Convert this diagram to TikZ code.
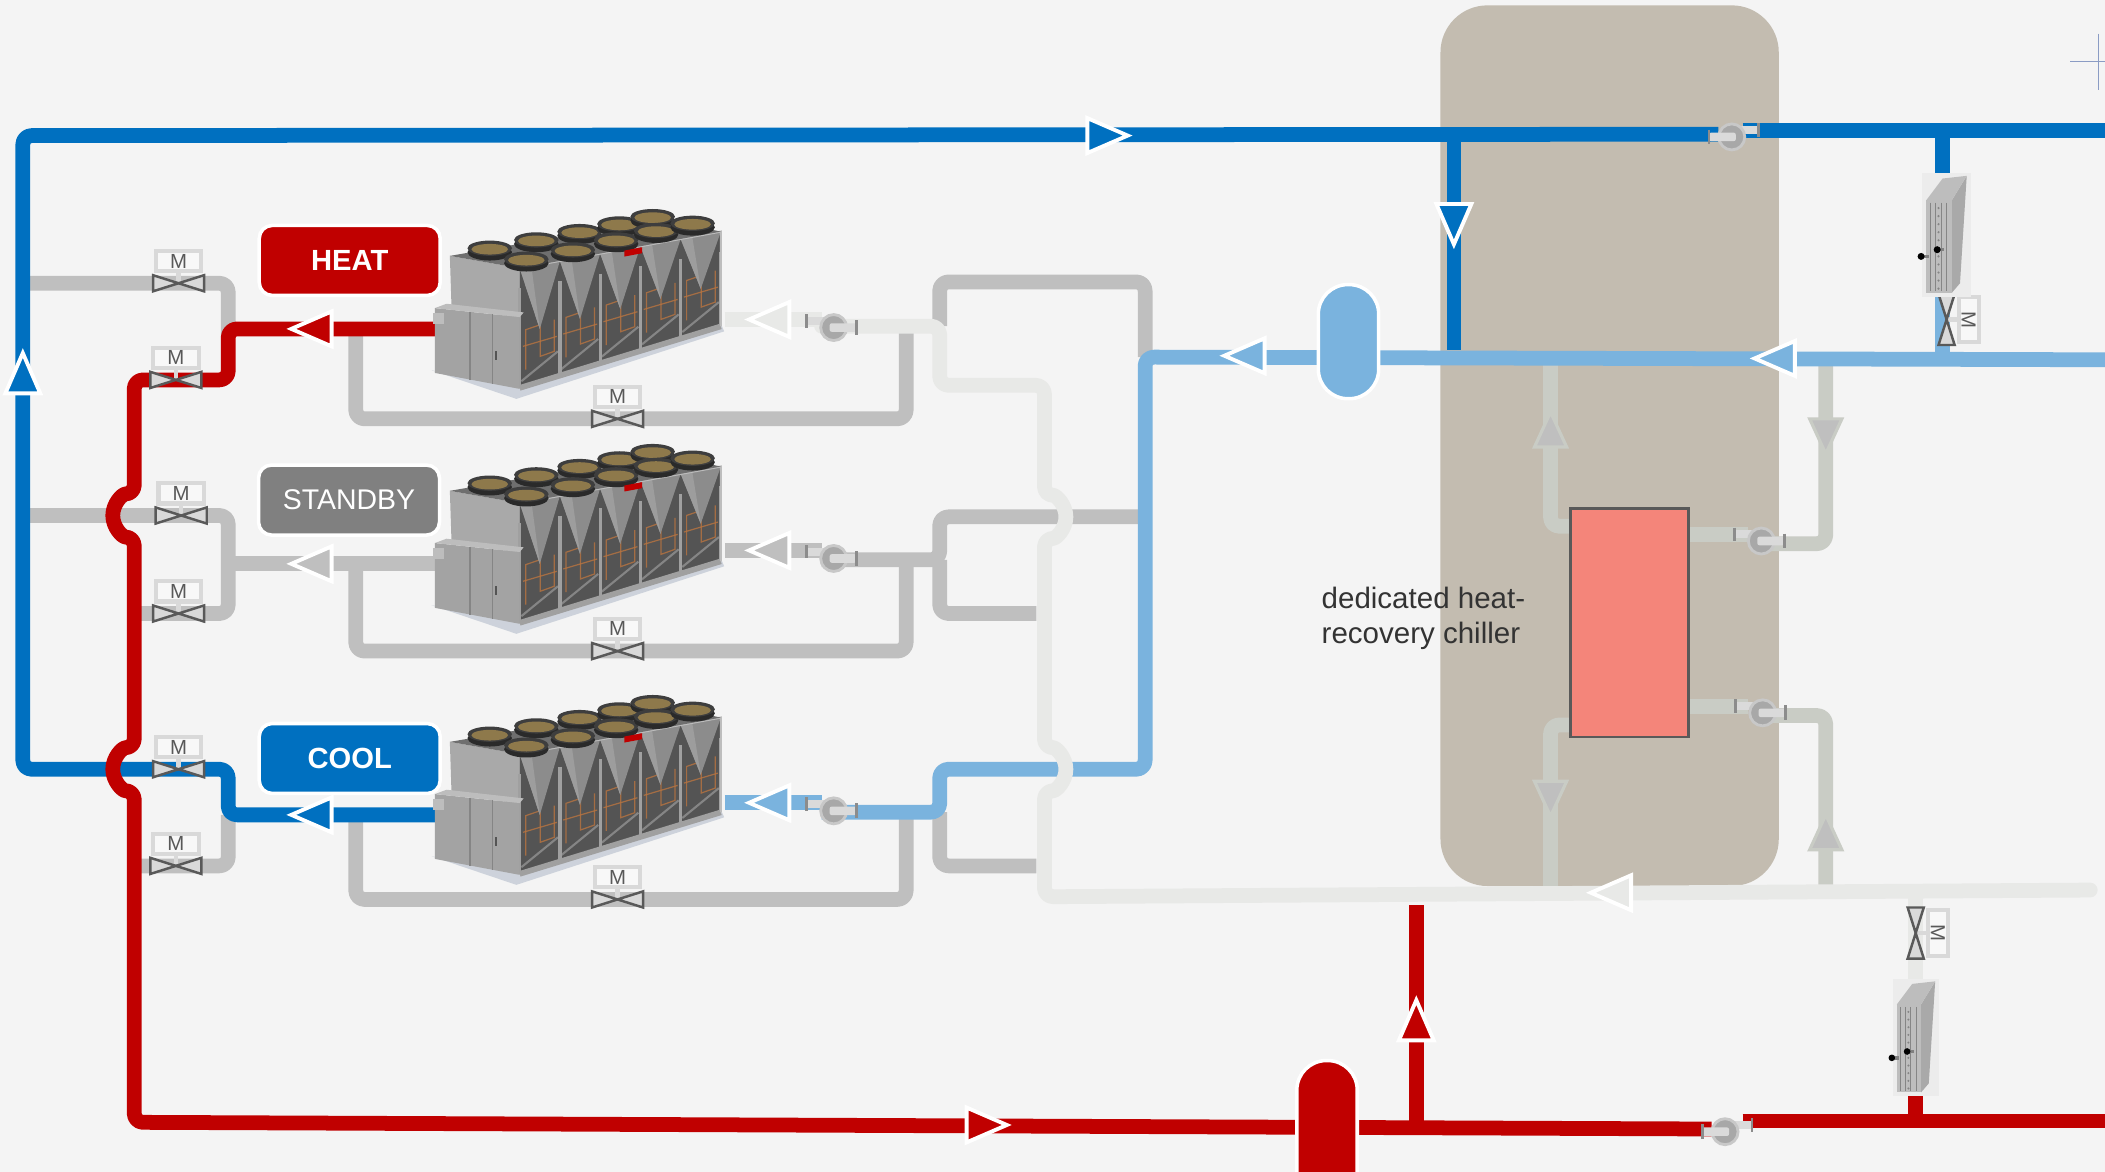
\documentclass[tikz,border=0pt]{standalone}
\usepackage{fontspec}
\setmainfont{Liberation Sans}
\definecolor{bgc}{HTML}{F4F4F4}
\definecolor{dblue}{HTML}{0070C0}
\definecolor{lblue}{HTML}{7AB3DE}
\definecolor{pred}{HTML}{C00000}
\definecolor{pgrey}{HTML}{BFBFBF}
\definecolor{pwhite}{HTML}{E8E9E7}
\definecolor{pgreen}{HTML}{C9CCC5}
\definecolor{beige}{HTML}{C3BCB0}
\definecolor{salmon}{HTML}{F4857A}
\definecolor{sgrey}{HTML}{808080}
\definecolor{dgrey}{HTML}{595959}
\definecolor{lgrey}{HTML}{D9D9D9}
\definecolor{txt}{HTML}{333333}
\definecolor{cross}{HTML}{8B9CC4}
% chiller unit colours
\definecolor{chshadow}{HTML}{CDD2DB}
\definecolor{chend}{HTML}{A9A9A9}
\definecolor{chdark}{HTML}{545454}
\definecolor{copper}{HTML}{B87440}
\definecolor{chpanel}{HTML}{8C8C8C}
\definecolor{chpanell}{HTML}{9D9D9D}
\definecolor{chpost}{HTML}{A0A0A0}
\definecolor{chbox}{HTML}{A3A3A3}
\definecolor{chlid}{HTML}{BDBDBD}
\definecolor{chline}{HTML}{858585}
\definecolor{chtop}{HTML}{6F6F6F}
\definecolor{chfanside}{HTML}{2A2A2A}
\definecolor{chfanrim}{HTML}{3E3E3E}
\definecolor{chfangold}{HTML}{8E794B}
% pump colours
\definecolor{pumpbody}{HTML}{A8A8A8}
\definecolor{pumprim}{HTML}{C8C8C8}
\definecolor{pumplight}{HTML}{DADADA}
\definecolor{pumpedge}{HTML}{8C8C8C}

\newcommand\hopr{0.2148cm}

\tikzset{
  pipe/.style={line width=4.2pt, line join=round, rounded corners=2.5pt},
  flow/.style={draw=white, line width=1.1pt, line join=miter},
  labelbox/.style={draw=white, line width=1pt, rounded corners=0.13cm, text=white,
    minimum width=1.81cm, minimum height=0.70cm, inner sep=0pt},
  valvebody/.style={fill=lgrey, draw=dgrey, line width=0.7pt, line join=miter},
  valvebox/.style={fill=bgc!60!white, draw=lgrey, line width=1.2pt},
  valvetext/.style={text=dgrey, inner sep=0pt, font=\fontsize{5.8}{6}\selectfont},
}

% flow arrow: x, y, direction angle, fill colour
\newcommand\farrow[4]{\filldraw[flow, fill=#4, shift={(#1,#2)}, rotate=#3]
  (15,0) -- (-15,13) -- (-15,-13) -- cycle;}
% flow arrow inside the heat-recovery chiller loops
\newcommand\garrow[3]{\filldraw[fill=pgrey, draw=pgreen, line width=0.9pt, line join=miter,
  shift={(#1,#2)}, rotate=#3] (13,0) -- (-13,12) -- (-13,-12) -- cycle;}

% motorised valve: name, x, y, rotation
\newcommand\mvalve[4]{%
\begin{scope}[shift={(#2,#3)}, rotate=#4]
  \draw[lgrey, line width=1.2pt] (0,0) -- (0,-9);
  \filldraw[valvebody] (-19,-6) -- (0,0) -- (-19,6) -- cycle;
  \filldraw[valvebody] (19,-6) -- (0,0) -- (19,6) -- cycle;
  \filldraw[valvebox] (-17,-24) rectangle (17,-9);
  \node[valvetext, rotate=#4] (#1) at (0,-16.5) {M};
\end{scope}}

% pump: x, y, xscale
\newcommand\pumpunit[3]{%
\begin{scope}[shift={(#1,#2)}, xscale=#3]
  \fill[pumplight] (-20,-8) rectangle (-4,-2);
  \draw[pumpedge, line width=0.8pt] (-20,-10) -- (-20,0);
  \filldraw[fill=pumpbody, draw=pumprim, line width=0.8pt] (0,0) circle [radius=0.13cm];
  \fill[pumplight, rounded corners=0.6pt] (-3,-3.2) rectangle (17,3.2);
  \draw[pumpedge, line width=0.8pt] (17,-5.5) -- (17,5.5);
\end{scope}}

% finned coil: x, y, scale
\newcommand\coilunit[3]{%
\begin{scope}[shift={(#1,#2)}, scale=#3]
  \fill[white!85!gray] (-3,-2) rectangle (33,90);
  \fill[chend] (19,18) -- (30,0) -- (25,80) -- (19,87) -- cycle;
  \fill[chlid] (0,18) -- (12,2) -- (30,0) -- (19,18) -- cycle;
  \fill[chlid] (0,18) rectangle (19,87);
  \foreach \k in {3,7,11,15}{\draw[chline, line width=0.3pt] (\k,20) -- (\k,86);}
  \foreach \k in {24,30,...,84}{\fill[chline] (9,\k) circle [radius=0.012cm];}
  \draw[gray, line width=1pt] (-4,60) -- (2,60);
  \draw[gray, line width=1pt] (8,55) -- (13,55);
  \fill[black] (-4,60) circle [radius=0.035cm];
  \fill[black] (8,55) circle [radius=0.035cm];
\end{scope}}

% air-cooled chiller unit, drawn in its own local grid
\newcommand\chillerunit[2]{%
\begin{scope}[shift={(#1,#2)}, x=0.0033334cm, y=-0.0033334cm]
  \fill[chshadow] (35,512) -- (290,598) -- (915,395) -- (905,372) -- (300,560) -- cycle;
  \fill[chend] (90,168) -- (300,205) -- (300,355) -- (95,322) -- cycle;
  \fill[chdark] (300,205) -- (905,95) -- (905,380) -- (300,565) -- cycle;
  \foreach \i in {0,...,4}{
    \pgfmathsetmacro\xa{300+121*\i}
    \pgfmathsetmacro\yb{565-37*\i}
    \draw[copper, line width=0.35pt, opacity=0.8] (\xa+18,\yb-55) -- (\xa+18,\yb-175) -- (\xa+62,\yb-190)
      -- (\xa+62,\yb-95) -- (\xa+104,\yb-110) -- (\xa+104,\yb-205);
    \draw[copper, line width=0.35pt, opacity=0.8] (\xa+10,\yb-125) -- (\xa+112,\yb-155);
    \draw[chline, line width=0.6pt] (\xa+5,\yb-20) -- (\xa+115,\yb-110);
  }
  \foreach \i in {0,...,4}{
    \pgfmathsetmacro\xa{300+121*\i}
    \pgfmathsetmacro\ya{205-22*\i}
    \pgfmathsetmacro\xb{421+121*\i}
    \pgfmathsetmacro\yb{183-22*\i}
    \pgfmathsetmacro\xc{360.5+121*\i}
    \pgfmathsetmacro\yc{388-30.25*\i}
    \fill[chpanel] (\xa,\ya) -- (\xb,\yb) -- (\xc,\yc) -- cycle;
    \fill[chpanell] (\xa,\ya) -- (\xa+35,\ya-6) -- (\xc,\yc) -- cycle;
  }
  \foreach \i in {0,...,5}{
    \pgfmathsetmacro\xa{300+121*\i}
    \draw[chpost, line width=0.9pt] (\xa,{265-22*\i}) -- (\xa,{565-37*\i});
  }
  \draw[chpost, line width=1.6pt] (300,565) -- (905,380);
  \draw[chlid, line width=0.6pt] (300,205) -- (905,95) -- (905,380);
  \fill[chbox] (45,325) -- (300,352) -- (300,568) -- (45,520) -- cycle;
  \fill[chlid] (45,325) -- (80,312) -- (312,338) -- (300,352) -- cycle;
  \draw[chline, line width=0.4pt] (150,337) -- (150,540);
  \draw[chline, line width=0.4pt] (218,344) -- (218,553);
  \fill[chdark] (225,455) rectangle (233,480);
  \fill[chlid] (38,340) rectangle (72,372);
  \fill[chtop] (90,168) -- (300,205) -- (905,95) -- (730,58) -- cycle;
  \foreach \cx/\cy in {210/145, 350/120, 480/95, 600/72, 700/50,
                       320/178, 460/150, 590/120, 710/92, 820/70}{
    \fill[chfanside] (\cx,\cy+12) ellipse [x radius=67, y radius=25];
    \fill[chfanrim] (\cx,\cy) ellipse [x radius=67, y radius=23];
    \fill[chfangold] (\cx,\cy+3) ellipse [x radius=55, y radius=16];
  }
  \fill[pred] (615,152) -- (668,142) -- (668,160) -- (615,170) -- cycle;
\end{scope}}

\begin{document}
\begin{tikzpicture}[x=0.013425cm, y=-0.013425cm]
\useasboundingbox (0,0) rectangle (1568,873);
\fill[bgc] (0,0) rectangle (1568,873);

% heat-recovery chiller enclosure
\fill[beige, rounded corners=0.47cm] (1073,4) rectangle (1325,660);

% idle (grey) pipework
\draw[pipe, pgrey] (17,211) -- (170,211) -- (170,250);
\draw[pipe, pgrey] (17,384) -- (170,384) -- (170,457) -- (100,457);
\draw[pipe, pgrey] (170,420) -- (325,420);
\draw[pipe, pgrey] (170,607) -- (170,645) -- (100,645);
\draw[pipe, pgrey] (700,243) -- (700,210) -- (853,210) -- (853,266);
\draw[pipe, pgrey] (675,243) -- (675,312) -- (265,312) -- (265,245);
\draw[pipe, pgrey] (540,410) -- (612,410);
\draw[pipe, pgrey] (612,417) -- (700,417) -- (700,385) -- (853,385);
\draw[pipe, pgrey] (700,417) -- (700,457) -- (772,457);
\draw[pipe, pgrey] (675,417) -- (675,485) -- (265,485) -- (265,420);
\draw[pipe, pgrey] (700,605) -- (700,645) -- (772,645);
\draw[pipe, pgrey] (675,605) -- (675,670) -- (265,670) -- (265,607);

% heat-recovery chiller loops
\draw[pipe, pgreen] (1172,392) -- (1155,392) -- (1155,271);
\draw[pipe, pgreen] (1256,398) -- (1302,398);
\draw[pipe, pgreen] (1318,405) -- (1360,405) -- (1360,271);
\draw[pipe, pgreen] (1172,540) -- (1155,540) -- (1155,662);
\draw[pipe, pgreen] (1256,526) -- (1302,526);
\draw[pipe, pgreen] (1318,533) -- (1360,533) -- (1360,662);

% chilled-water return (light blue)
\draw[pipe, lblue] (540,598) -- (612,598);
\draw[pipe, lblue] (612,605) -- (700,605) -- (700,573) -- (853,573) -- (853,266) -- (1568,268);
\draw[pipe, lblue] (1447,215) -- (1447,267);

% chilled-water supply (dark blue)
\draw[pipe, dblue] (325,607) -- (170,607) -- (170,573) -- (17,573) -- (17,101) -- (1280,100);
\draw[pipe, dblue] (1298,97) -- (1568,97);
\draw[pipe, dblue] (1083,100) -- (1083,261);
\draw[pipe, dblue] (1447,97) -- (1447,140);

% heating-water return (pale) with crossovers
\draw[pipe, pwhite] (540,238) -- (612,238);
\draw[pipe, pwhite, line cap=round] (612,243) -- (700,243) -- (700,287) -- (778,287) -- (778,369)
  arc[start angle=90, end angle=-90, radius=\hopr] -- (778,557)
  arc[start angle=90, end angle=-90, radius=\hopr] -- (778,668) -- (1557,663);
\draw[pipe, pwhite] (1427,735) -- (1427,668);

% heating-water supply (red) with crossovers
\draw[pipe, pred] (325,245) -- (170,245) -- (170,283) -- (100,283) -- (100,368)
  arc[start angle=90, end angle=270, radius=\hopr] -- (100,557)
  arc[start angle=90, end angle=270, radius=\hopr] -- (100,836) -- (1275,841);
\draw[pipe, pred] (1298,835) -- (1568,835);
\draw[pipe, pred] (1055,840) -- (1055,674);
\draw[pipe, pred] (1427,835) -- (1427,810);

% heat-recovery chiller
\filldraw[fill=salmon, draw=dgrey, line width=0.8pt] (1170,379) rectangle (1258,549);

% valves
\mvalve{v1}{133}{211}{0}
\mvalve{v2}{131}{283}{0}
\mvalve{v3}{135}{384}{0}
\mvalve{v4}{133}{457}{0}
\mvalve{v5}{133}{573}{0}
\mvalve{v6}{131}{645}{0}
\mvalve{v7}{460}{312}{0}
\mvalve{v8}{460}{485}{0}
\mvalve{v9}{460}{670}{0}
\mvalve{v10}{1450}{238}{-90}
\mvalve{v11}{1427}{695}{-90}

% pumps
\pumpunit{621}{244}{1}
\pumpunit{621}{416}{1}
\pumpunit{621}{604}{1}
\pumpunit{1312}{403}{1}
\pumpunit{1313}{531}{1}
\pumpunit{1290}{102}{-1}
\pumpunit{1285}{843}{-1}

% tanks
\filldraw[fill=lblue, draw=white, line width=1pt, rounded corners=0.295cm] (982,212) rectangle (1027,297);
\begin{scope}
  \clip (0,0) rectangle (1568,873);
  \filldraw[fill=pred, draw=white, line width=1pt, rounded corners=0.295cm] (966,790) rectangle (1011,900);
\end{scope}

% flow arrows
\farrow{17}{278}{90}{dblue}
\farrow{825}{101}{0}{dblue}
\farrow{1083}{167}{270}{dblue}
\farrow{232}{245}{180}{pred}
\farrow{232}{420}{180}{pgrey}
\farrow{232}{607}{180}{dblue}
\farrow{573}{238}{180}{pwhite}
\farrow{573}{410}{180}{pgrey}
\farrow{573}{598}{180}{lblue}
\farrow{927}{265}{180}{lblue}
\farrow{1322}{267}{180}{lblue}
\farrow{735}{838}{0}{pred}
\farrow{1055}{760}{90}{pred}
\farrow{1200}{665}{180}{pwhite}
\garrow{1155}{320}{90}
\garrow{1360}{325}{270}
\garrow{1155}{595}{270}
\garrow{1360}{620}{90}

% air-cooled chillers
\chillerunit{312.8}{149}
\chillerunit{312.8}{324}
\chillerunit{312.8}{511}

% coils
\coilunit{1435}{131}{1}
\coilunit{1413}{731}{0.95}

% mode labels
\node[labelbox, fill=pred, font=\fontsize{8.3}{10}\selectfont\bfseries] (heat) at (260.5,194) {HEAT};
\node[labelbox, fill=sgrey, font=\fontsize{8.1}{10}\selectfont] (standby) at (260,372.5) {STANDBY};
\node[labelbox, fill=dblue, font=\fontsize{8.3}{10}\selectfont\bfseries] (cool) at (260.5,565) {COOL};

\node[anchor=north west, align=left, inner sep=0pt, text=txt,
  font=\fontsize{8.4}{9.9}\selectfont] (hrclabel) at (984,437) {dedicated heat-\\recovery chiller};

% crosshair mark
\draw[cross, line width=0.4pt] (1542,46) -- (1568,46) (1563,25) -- (1563,67);
\end{tikzpicture}
\end{document}
